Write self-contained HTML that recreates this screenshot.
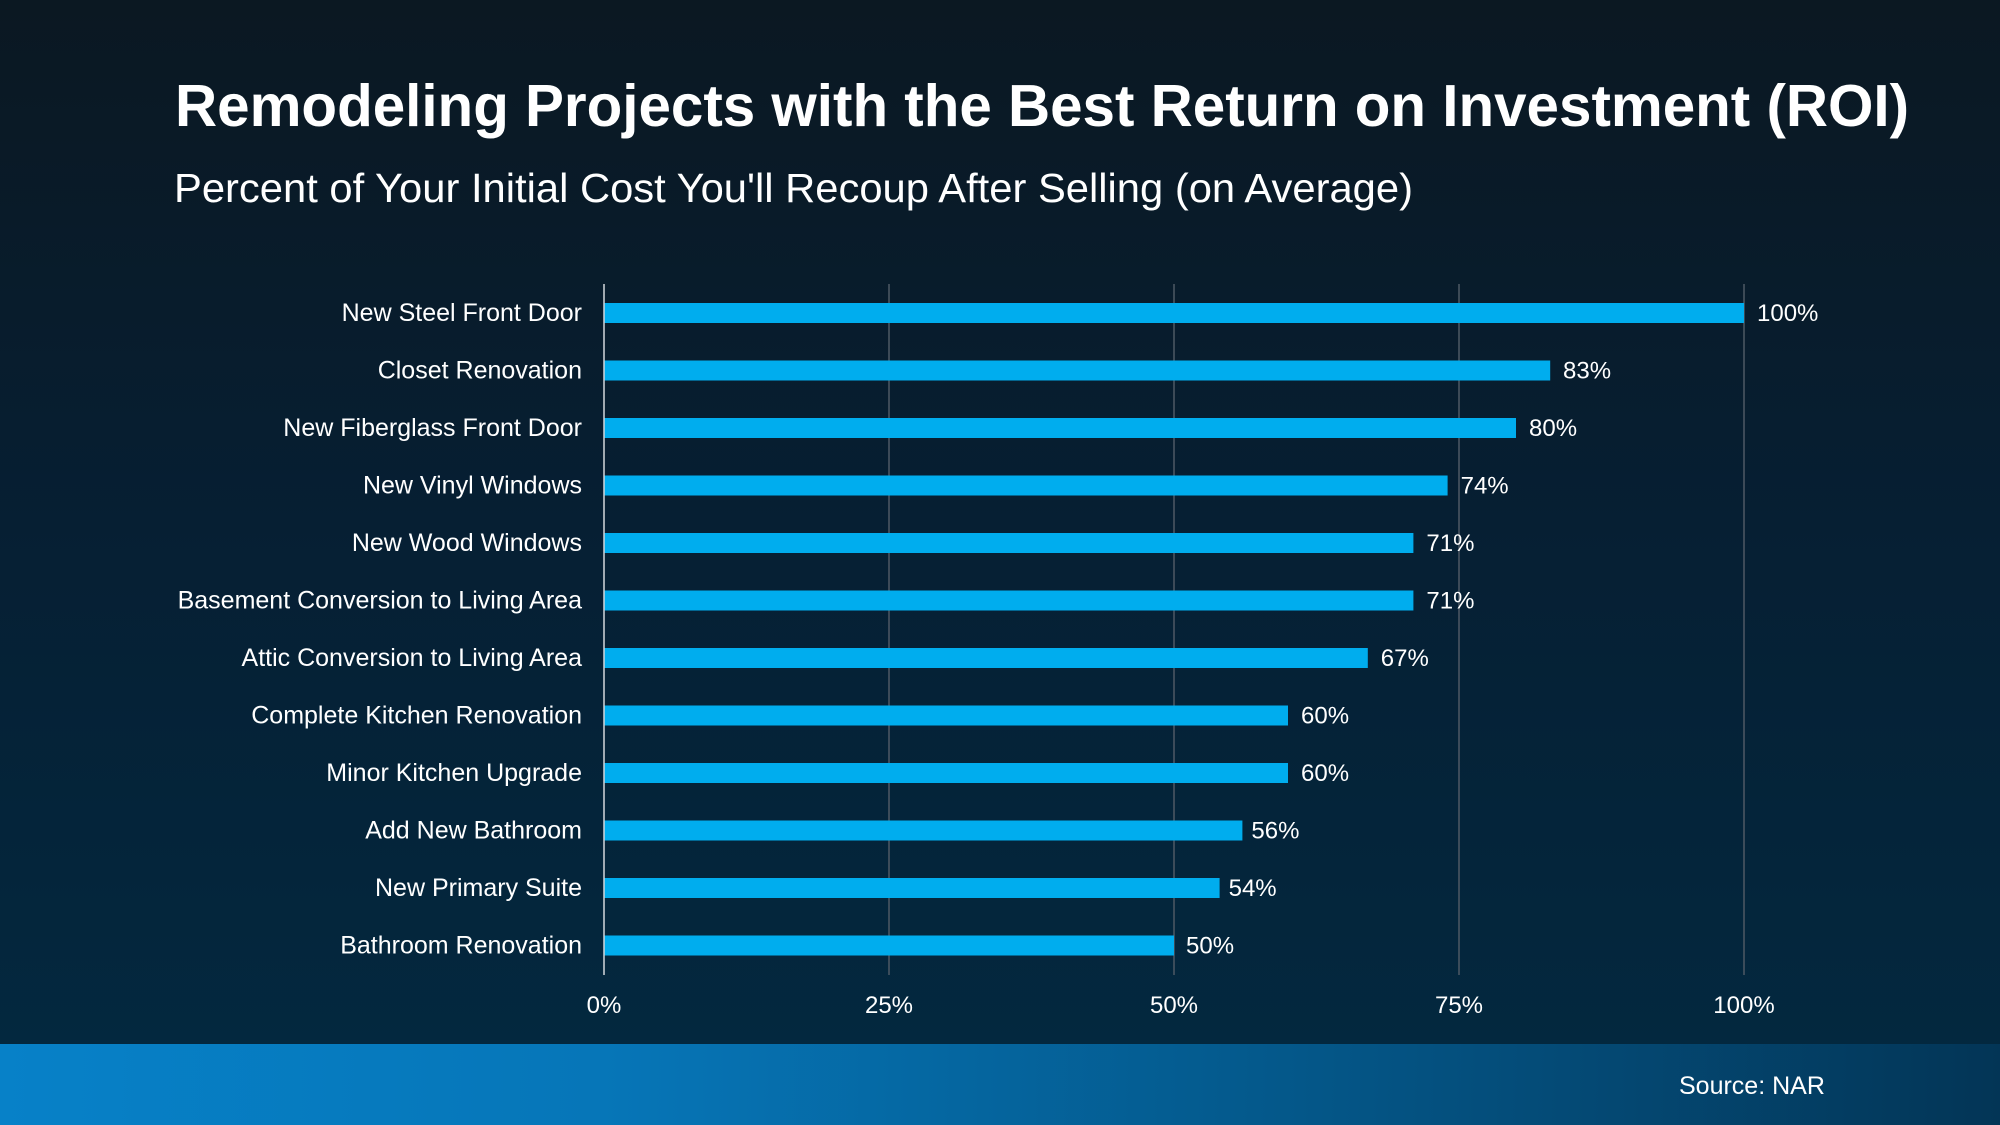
<!DOCTYPE html>
<html>
<head>
<meta charset="utf-8">
<style>
  html, body { margin:0; padding:0; }
  body { width:2000px; height:1125px; overflow:hidden; background:#06202f; }
  svg { display:block; }
  text { font-family: "Liberation Sans", Arial, Helvetica, sans-serif; fill:#ffffff; }
</style>
</head>
<body>
<svg width="2000" height="1125" viewBox="0 0 2000 1125" xmlns="http://www.w3.org/2000/svg">
  <defs>
    <linearGradient id="bg" x1="0" y1="0" x2="0" y2="1">
      <stop offset="0" stop-color="#0b1822"/>
      <stop offset="0.5" stop-color="#061f33"/>
      <stop offset="1" stop-color="#03283f"/>
    </linearGradient>
    <linearGradient id="ft" gradientUnits="userSpaceOnUse" x1="0" y1="1060" x2="2000" y2="1125">
      <stop offset="0" stop-color="#0781c8"/>
      <stop offset="0.3" stop-color="#0676b8"/>
      <stop offset="0.65" stop-color="#045789"/>
      <stop offset="1" stop-color="#033556"/>
    </linearGradient>
  </defs>
  <rect x="0" y="0" width="2000" height="1044" fill="url(#bg)"/>
  <rect x="0" y="1044" width="2000" height="81" fill="url(#ft)"/>

  <text x="175" y="126" font-size="59" font-weight="bold" textLength="1734" lengthAdjust="spacingAndGlyphs">Remodeling Projects with the Best Return on Investment (ROI)</text>
  <text x="174" y="202" font-size="41" textLength="1239" lengthAdjust="spacingAndGlyphs">Percent of Your Initial Cost You'll Recoup After Selling (on Average)</text>

  <!-- gridlines -->
  <g stroke="#4e5965" stroke-width="1.5">
    <line x1="889" y1="284" x2="889" y2="975"/>
    <line x1="1174" y1="284" x2="1174" y2="975"/>
    <line x1="1459" y1="284" x2="1459" y2="975"/>
    <line x1="1744" y1="284" x2="1744" y2="975"/>
  </g>

  <!-- bars -->
  <g fill="#00adee">
    <rect x="604" y="303" width="1140" height="20"/>
    <rect x="604" y="360.5" width="946.2" height="20"/>
    <rect x="604" y="418" width="912" height="20"/>
    <rect x="604" y="475.5" width="843.6" height="20"/>
    <rect x="604" y="533" width="809.4" height="20"/>
    <rect x="604" y="590.5" width="809.4" height="20"/>
    <rect x="604" y="648" width="763.8" height="20"/>
    <rect x="604" y="705.5" width="684" height="20"/>
    <rect x="604" y="763" width="684" height="20"/>
    <rect x="604" y="820.5" width="638.4" height="20"/>
    <rect x="604" y="878" width="615.6" height="20"/>
    <rect x="604" y="935.5" width="570" height="20"/>
  </g>

  <line x1="604" y1="284" x2="604" y2="975" stroke="#d3d7db" stroke-width="1.5"/>

  <!-- category labels -->
  <g font-size="25" text-anchor="end">
    <text x="582" y="321">New Steel Front Door</text>
    <text x="582" y="378.5">Closet Renovation</text>
    <text x="582" y="436">New Fiberglass Front Door</text>
    <text x="582" y="493.5">New Vinyl Windows</text>
    <text x="582" y="551">New Wood Windows</text>
    <text x="582" y="608.5">Basement Conversion to Living Area</text>
    <text x="582" y="666">Attic Conversion to Living Area</text>
    <text x="582" y="723.5">Complete Kitchen Renovation</text>
    <text x="582" y="781">Minor Kitchen Upgrade</text>
    <text x="582" y="838.5">Add New Bathroom</text>
    <text x="582" y="896">New Primary Suite</text>
    <text x="582" y="953.5">Bathroom Renovation</text>
  </g>

  <!-- value labels -->
  <g font-size="24">
    <text x="1757" y="321">100%</text>
    <text x="1563" y="378.5">83%</text>
    <text x="1529" y="436">80%</text>
    <text x="1460.6" y="493.5">74%</text>
    <text x="1426.4" y="551">71%</text>
    <text x="1426.4" y="608.5">71%</text>
    <text x="1380.8" y="666">67%</text>
    <text x="1301" y="723.5">60%</text>
    <text x="1301" y="781">60%</text>
    <text x="1251.4" y="838.5">56%</text>
    <text x="1228.6" y="896">54%</text>
    <text x="1186" y="953.5">50%</text>
  </g>

  <!-- tick labels -->
  <g font-size="24" text-anchor="middle">
    <text x="604" y="1013">0%</text>
    <text x="889" y="1013">25%</text>
    <text x="1174" y="1013">50%</text>
    <text x="1459" y="1013">75%</text>
    <text x="1744" y="1013">100%</text>
  </g>

  <text x="1679" y="1094" font-size="25">Source: NAR</text>
</svg>
</body>
</html>
